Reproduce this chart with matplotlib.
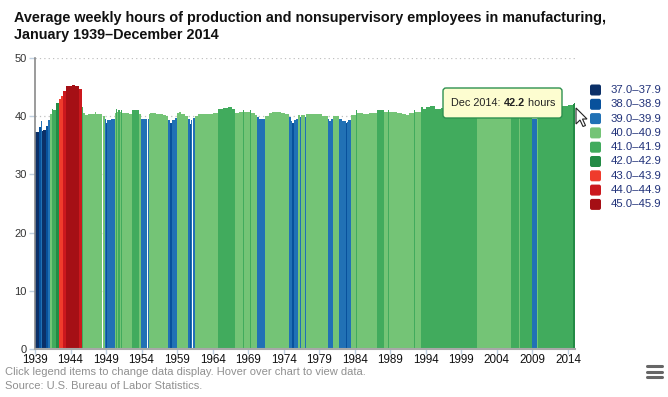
import matplotlib
matplotlib.use('Agg')
import matplotlib.pyplot as plt
import numpy as np
from matplotlib.patches import FancyBboxPatch, Polygon
from matplotlib.lines import Line2D
from matplotlib.transforms import IdentityTransform

plt.rcParams['font.family'] = ['Liberation Sans', 'DejaVu Sans']

W, H = 668, 397

title = ("Average weekly hours of production and nonsupervisory employees in manufacturing,\n"
         "January 1939\u2013December 2014")
footer_lines = ["Click legend items to change data display. Hover over chart to view data.",
                "Source: U.S. Bureau of Labor Statistics."]

start_year, end_year = 1939, 2014

# Piecewise readings: month at which a level starts, and the level (hours)
seg_start = [
    '1939-01', '1939-08', '1939-11', '1940-01', '1940-03', '1940-08', '1940-11', '1941-02',
    '1941-05', '1941-07', '1941-12', '1942-01', '1942-05', '1942-09', '1943-01', '1943-05',
    '1944-03', '1944-09', '1945-04', '1945-08', '1945-10', '1946-01', '1946-06', '1947-06',
    '1947-08', '1948-06', '1948-11', '1949-01', '1949-03', '1949-10', '1950-04', '1950-06',
    '1950-08', '1950-10', '1950-12', '1951-02', '1951-04', '1951-09', '1952-03', '1952-08',
    '1953-08', '1953-12', '1954-01', '1955-01', '1955-03', '1955-04', '1955-06', '1955-07',
    '1956-02', '1956-06', '1957-01', '1957-06', '1957-10', '1958-01', '1958-05', '1958-09',
    '1959-01', '1959-04', '1959-08', '1960-02', '1960-07', '1960-11', '1961-01', '1961-04',
    '1961-07', '1962-01', '1963-01', '1964-01', '1964-10', '1965-06', '1966-03', '1966-09',
    '1967-03', '1967-10', '1968-05', '1968-06', '1968-12', '1969-01', '1969-04', '1969-05',
    '1970-01', '1970-04', '1970-07', '1970-10', '1970-11', '1971-06', '1972-01', '1972-06',
    '1973-01', '1973-09', '1974-04', '1974-10', '1975-01', '1975-03', '1975-06', '1975-10',
    '1976-01', '1976-05', '1976-06', '1977-01', '1977-02', '1978-02', '1978-03', '1979-05',
    '1980-04', '1980-06', '1980-09', '1981-01', '1981-10', '1982-03', '1982-10', '1982-12',
    '1983-01', '1983-06', '1984-03', '1984-04', '1985-03', '1986-01', '1987-03', '1988-02',
    '1988-09', '1988-11', '1990-01', '1990-09', '1991-03', '1991-08', '1992-05', '1992-06',
    '1993-05', '1993-08', '1994-01', '1994-08', '1995-04', '1996-02', '1996-03', '1997-01',
    '1998-01', '1999-01', '2000-01', '2000-09', '2001-04', '2001-10', '2002-03', '2003-01',
    '2003-09', '2004-04', '2004-05', '2005-04', '2006-01', '2007-03', '2007-04', '2008-06',
    '2009-01', '2009-09', '2009-11', '2010-01', '2011-01', '2012-01', '2013-01', '2014-01',
    '2014-02', '2014-04', '2014-05', '2014-10', '2014-12',
]
seg_hours = [
    37.2, 38.1, 39.1, 37.4, 37.6, 38.3, 39.3, 40.3,
    41.2, 41.0, 41.8, 42.3, 43.0, 43.5, 44.4, 45.2,
    45.4, 45.2, 44.6, 41.5, 40.6, 40.2, 40.4, 40.7,
    40.3, 40.1, 39.5, 38.9, 39.3, 39.5, 40.6, 41.2,
    40.8, 41.1, 40.8, 41.0, 40.6, 40.5, 40.4, 41.1,
    40.4, 39.6, 39.5, 40.3, 41.0, 40.6, 41.1, 40.6,
    40.4, 40.3, 40.2, 40.0, 39.4, 38.8, 39.3, 39.7,
    40.5, 40.7, 40.4, 40.0, 39.5, 38.6, 39.4, 39.7,
    40.1, 40.3, 40.4, 40.6, 41.2, 41.4, 41.6, 41.3,
    40.5, 40.7, 41.0, 40.7, 41.0, 40.7, 41.0, 40.6,
    40.2, 39.8, 39.6, 38.9, 39.5, 40.1, 40.5, 40.7,
    40.8, 40.6, 40.3, 39.8, 39.2, 38.9, 39.3, 39.6,
    40.2, 39.9, 40.2, 39.9, 40.3, 39.9, 40.4, 40.1,
    39.5, 39.2, 39.5, 40.1, 39.6, 39.1, 38.9, 39.0,
    39.4, 40.2, 41.0, 40.6, 40.4, 40.6, 41.0, 40.8,
    41.0, 40.8, 40.6, 40.3, 40.2, 40.5, 41.0, 40.8,
    41.5, 41.2, 41.6, 41.7, 41.2, 40.9, 41.4, 41.7,
    41.6, 41.6, 41.5, 41.2, 40.6, 40.2, 40.5, 40.3,
    40.6, 41.0, 40.9, 40.8, 41.1, 40.9, 41.2, 41.0,
    39.6, 40.6, 41.1, 41.2, 41.5, 41.7, 41.8, 42.0,
    41.9, 42.0, 41.9, 42.1, 42.2,
]

bin_floor = [37, 38, 39, 40, 41, 42, 43, 44, 45]
bin_labels = ['%d.0\u2013%d.9' % (b, b) for b in bin_floor]
bin_colors = ['#0b3068', '#08519c', '#2171b5', '#74c476', '#41ab5d',
              '#238b45', '#ef3b2c', '#cb181d', '#a50f15']

tick_years = list(range(1939, 2015, 5))
y_ticks = [0, 10, 20, 30, 40, 50]
tooltip_month = 'Dec 2014'

# expand readings to months
n_months = (end_year - start_year + 1) * 12
starts = [(int(s[:4]) - start_year) * 12 + int(s[5:]) - 1 for s in seg_start]
hours = np.empty(n_months)
for i, (st, h) in enumerate(zip(starts, seg_hours)):
    en = starts[i + 1] if i + 1 < len(starts) else n_months
    hours[st:en] = h
colors = [bin_colors[int(np.floor(h)) - bin_floor[0]] for h in hours]


def fx(px):
    return px / W


def fy(py):
    return 1 - py / H


fig = plt.figure(figsize=(W / 100, H / 100), dpi=100)
ax = fig.add_axes([fx(35), fy(349), fx(575) - fx(35), fy(58) - fy(349)])

ax.bar(np.arange(n_months), hours, width=1.0, align='edge', color=colors,
       linewidth=0, antialiased=False, zorder=2)

ax.set_xlim(0, n_months)
ax.set_ylim(0, 50)
ax.set_yticks(y_ticks)
ax.set_yticklabels([str(v) for v in y_ticks])
ax.set_xticks([(y - start_year) * 12 for y in tick_years])
ax.set_xticklabels([str(y) for y in tick_years])
for v in y_ticks[1:]:
    ax.axhline(v, color='#c0c0c0', lw=0.9, ls=(0, (1, 2.5)), zorder=1)

for s in ['top', 'right']:
    ax.spines[s].set_visible(False)
ax.spines['left'].set_color('#8a8a8a')
ax.spines['left'].set_linewidth(1.2)
ax.spines['bottom'].set_color('#a8a8a8')
ax.spines['bottom'].set_linewidth(1.5)
ax.spines['bottom'].set_zorder(3)
ax.tick_params(axis='y', direction='out', length=4, width=1, color='#c0d0e0',
               labelsize=8, labelcolor='#333333', pad=2)
ax.tick_params(axis='x', direction='out', length=3.5, width=1, color='#c0d0e0',
               labelsize=8.4, labelcolor='#111111', pad=0.3)

# title
fig.text(fx(14), fy(11), title, ha='left', va='top', fontsize=10.4, fontweight='bold',
         color='#111111', linespacing=1.25)

# footer
fig.text(fx(5), fy(372), footer_lines[0], ha='left', va='center', fontsize=8, color='#909090')
fig.text(fx(5), fy(386), footer_lines[1], ha='left', va='center', fontsize=8, color='#909090')

# legend
for i, (lab, col) in enumerate(zip(bin_labels, bin_colors)):
    cy = 90 + 14.3 * i
    sq = FancyBboxPatch((590, H - cy - 5.5), 11, 11,
                        boxstyle='round,pad=0,rounding_size=2',
                        transform=IdentityTransform(), facecolor=col, edgecolor='none')
    fig.patches.append(sq)
    fig.text(fx(611), fy(cy), lab, ha='left', va='center', fontsize=8.2, color='#22337a')

# tooltip
tip = FancyBboxPatch((443, H - 118), 119, 30, boxstyle='round,pad=0,rounding_size=3',
                     transform=IdentityTransform(), facecolor='#fdfdd0',
                     edgecolor='#2e9150', linewidth=1.0, zorder=5)
fig.patches.append(tip)
fig.canvas.draw()
rend = fig.canvas.get_renderer()
t1 = fig.text(fx(451), fy(103), tooltip_month + ': ', ha='left', va='center',
              fontsize=7.8, color='#222222', zorder=6)
bb = t1.get_window_extent(renderer=rend)
t2 = fig.text(bb.x1 / W, fy(103), '%.1f' % hours[-1], ha='left', va='center',
              fontsize=7.8, fontweight='bold', color='#222222', zorder=6)
bb2 = t2.get_window_extent(renderer=rend)
fig.text(bb2.x1 / W, fy(103), ' hours', ha='left', va='center',
         fontsize=7.8, color='#222222', zorder=6)

# mouse cursor
cur = np.array([(0, 0), (0, 16), (4, 12), (7, 18.5), (9.5, 17.5), (6.5, 11), (11, 11)])
cur_px = [(576 + x, H - 108 - y) for x, y in cur]
fig.patches.append(Polygon(cur_px, closed=True, transform=IdentityTransform(),
                           facecolor='white', edgecolor='#222222', linewidth=0.8, zorder=7))

# menu icon
for yy in [366, 371.5, 377]:
    fig.lines.append(Line2D([646.5, 661.5], [H - yy, H - yy], transform=IdentityTransform(),
                            color='#666666', linewidth=2.2, solid_capstyle='round'))

fig.savefig('out.png', dpi=100)
